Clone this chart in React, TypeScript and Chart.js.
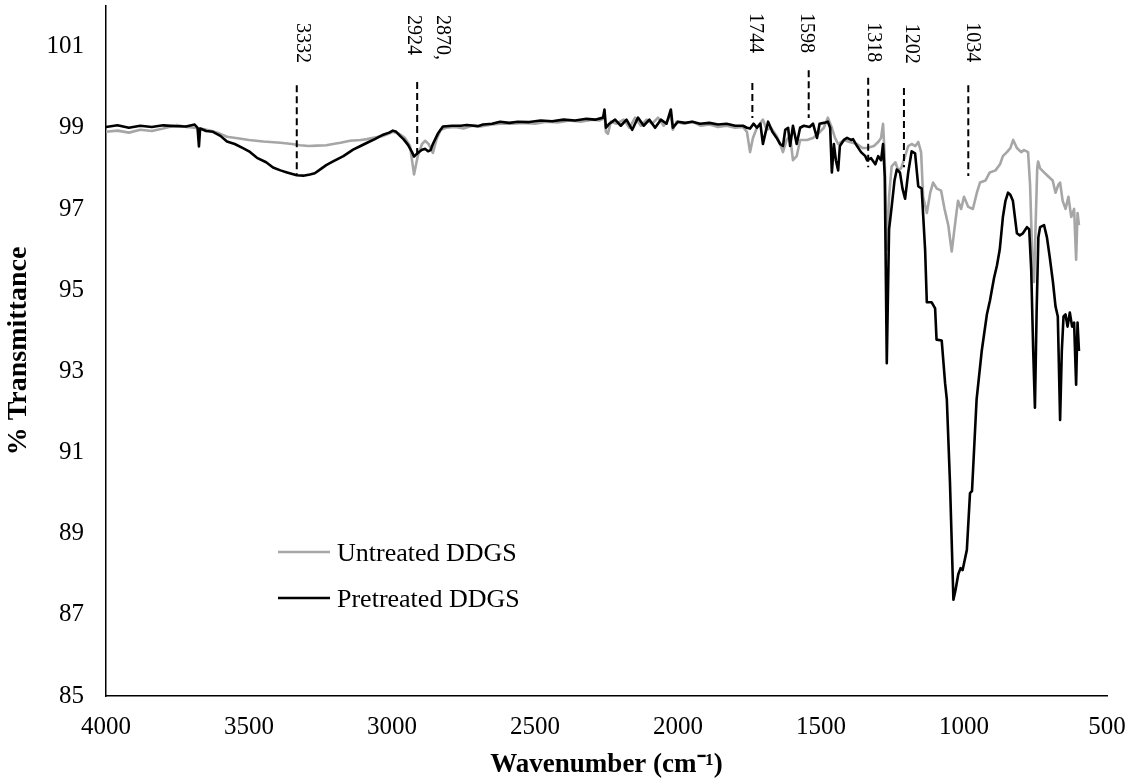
import React, { useEffect, useRef } from "react";
import { Chart, registerables } from "chart.js";

Chart.register(...registerables);

// ---------- Data ----------
const seriesNames = ["Untreated DDGS", "Pretreated DDGS"];

const untreatedWavenumber = [
  4000, 3960, 3920, 3880, 3840, 3800, 3752, 3720, 3690, 3660,
  3630, 3600, 3577, 3540, 3500, 3450, 3390, 3350, 3322, 3290,
  3263, 3230, 3206, 3180, 3147, 3110, 3087, 3060, 3031, 3010,
  2997, 2975, 2955, 2937, 2923, 2910, 2895, 2884, 2872, 2857,
  2845, 2830, 2810, 2780, 2750, 2720, 2690, 2650, 2620, 2580,
  2540, 2500, 2460, 2420, 2380, 2340, 2300, 2275, 2262, 2257,
  2252, 2245, 2235, 2215, 2190, 2170, 2150, 2130, 2110, 2090,
  2070, 2050, 2035, 2025, 2018, 2005, 1980, 1950, 1920, 1890,
  1860, 1830, 1800, 1773, 1759, 1748, 1738, 1724, 1703, 1690,
  1675, 1655, 1643, 1633, 1620, 1608, 1598, 1585, 1573, 1549,
  1528, 1510, 1490, 1476, 1462, 1451, 1440, 1420, 1400, 1374,
  1355, 1339, 1315, 1300, 1290, 1283, 1278, 1270, 1262, 1253,
  1240, 1230, 1220, 1206, 1195, 1183, 1170, 1160, 1150, 1143,
  1130, 1118, 1108, 1095, 1080, 1068, 1055, 1043, 1030, 1021,
  1010, 1000, 985, 969, 955, 944, 925, 910, 890, 874,
  864, 850, 838, 828, 815, 800, 790, 776, 769, 762,
  755, 750, 744, 741, 734, 720, 705, 690, 680, 670,
  664, 655, 645, 635, 625, 615, 608, 603, 598,
];
const untreatedTransmittance = [
  98.9, 98.93, 98.88, 98.95, 98.92, 98.98, 99.07, 99.02, 99.0, 98.97,
  98.92, 98.85, 98.78, 98.74, 98.7, 98.66, 98.63, 98.6, 98.57, 98.55,
  98.56, 98.57, 98.6, 98.63, 98.68, 98.7, 98.72, 98.76, 98.8, 98.86,
  98.9, 98.85, 98.75, 98.55, 97.85, 98.3, 98.6, 98.68, 98.6, 98.38,
  98.7, 98.95, 99.0, 99.02, 98.98, 99.05, 99.03, 99.08, 99.1, 99.1,
  99.12, 99.1, 99.15, 99.13, 99.18, 99.15, 99.2, 99.18, 99.22, 99.35,
  98.9, 98.85, 99.15, 99.1, 99.2, 99.0, 99.25, 99.05, 99.2, 99.1,
  99.25, 99.05, 99.2, 99.35, 98.95, 99.15, 99.1, 99.15, 99.05, 99.08,
  99.02, 99.05, 99.0, 99.02, 98.9, 98.4, 98.75, 99.0, 99.2, 98.95,
  99.0, 98.8, 98.6, 98.4, 98.7, 98.8, 98.2, 98.3, 98.7, 98.7,
  98.75, 98.85, 99.0, 99.25, 99.0, 98.75, 98.6, 98.7, 98.65, 98.6,
  98.5, 98.5, 98.55, 98.65, 98.75, 99.1, 98.4, 96.0, 97.3, 98.05,
  98.15, 97.95, 98.0, 98.3, 98.55, 98.6, 98.55, 98.65, 98.4, 97.3,
  96.9, 97.4, 97.65, 97.5, 97.45, 97.0, 96.6, 95.95, 96.7, 97.2,
  97.0, 97.3, 97.05, 97.0, 97.4, 97.65, 97.7, 97.9, 97.95, 98.1,
  98.3, 98.4, 98.5, 98.7, 98.5, 98.4, 98.45, 98.4, 97.6, 96.0,
  95.2, 96.5, 98.0, 98.17, 98.0, 97.9, 97.8, 97.7, 97.4, 97.6,
  97.65, 97.2, 97.0, 97.3, 96.8, 97.0, 95.75, 96.9, 96.6,
];

const pretreatedWavenumber = [
  4000, 3960, 3920, 3880, 3840, 3800, 3760, 3720, 3690, 3680,
  3675, 3671, 3650, 3626, 3600, 3577, 3550, 3521, 3500, 3472,
  3440, 3416, 3390, 3367, 3333, 3310, 3287, 3270, 3252, 3230,
  3206, 3170, 3136, 3110, 3087, 3060, 3031, 3010, 2997, 2985,
  2972, 2960, 2944, 2930, 2923, 2910, 2895, 2884, 2874, 2865,
  2857, 2840, 2822, 2790, 2760, 2738, 2700, 2682, 2650, 2622,
  2590, 2560, 2520, 2480, 2440, 2400, 2360, 2320, 2290, 2262,
  2257, 2252, 2240, 2220, 2200, 2180, 2160, 2140, 2120, 2100,
  2080, 2060, 2040, 2025, 2018, 2000, 1975, 1950, 1923, 1890,
  1860, 1830, 1800, 1773, 1759, 1748, 1736, 1724, 1712, 1703,
  1695, 1685, 1670, 1655, 1643, 1633, 1625, 1615, 1608, 1598,
  1585, 1573, 1560, 1540, 1528, 1514, 1505, 1490, 1476, 1468,
  1462, 1455, 1448, 1440, 1434, 1420, 1409, 1395, 1388, 1374,
  1360, 1345, 1339, 1325, 1310, 1300, 1290, 1283, 1277, 1270,
  1262, 1253, 1243, 1235, 1224, 1215, 1206, 1195, 1183, 1171,
  1160, 1148, 1136, 1130, 1113, 1101, 1096, 1078, 1066, 1060,
  1049, 1037, 1030, 1020, 1012, 1005, 996, 990, 979, 972,
  956, 938, 920, 909, 895, 885, 875, 864, 855, 846,
  838, 829, 815, 805, 794, 780, 772, 765, 758, 752,
  746, 740, 734, 720, 710, 700, 689, 680, 672, 664,
  658, 652, 645, 638, 630, 622, 615, 608, 603, 598,
];
const pretreatedTransmittance = [
  99.02, 99.06, 99.0, 99.05, 99.02, 99.06, 99.04, 99.03, 99.08, 99.0,
  98.54, 98.98, 98.92, 98.9, 98.8, 98.66, 98.6, 98.5, 98.42, 98.26,
  98.15, 98.02, 97.95, 97.9, 97.83, 97.82, 97.85, 97.88, 97.97, 98.08,
  98.17, 98.3, 98.46, 98.55, 98.63, 98.72, 98.83, 98.88, 98.93, 98.9,
  98.8, 98.72, 98.58, 98.4, 98.29, 98.38, 98.46, 98.48, 98.42, 98.45,
  98.6, 98.85, 99.03, 99.05, 99.05, 99.07, 99.04, 99.08, 99.1, 99.15,
  99.12, 99.15, 99.14, 99.18, 99.16, 99.2, 99.18, 99.22, 99.2, 99.25,
  99.45, 99.0, 99.1, 99.2, 99.05, 99.2, 98.95, 99.25, 99.05, 99.2,
  99.0, 99.2, 99.1, 99.45, 99.0, 99.15, 99.12, 99.15, 99.1, 99.12,
  99.08, 99.1, 99.05, 99.05, 99.0, 98.98, 99.1, 99.0, 99.1, 98.6,
  98.85, 99.15, 98.9, 98.75, 98.6, 98.55, 98.95, 99.0, 98.55, 99.05,
  98.6, 99.0, 99.05, 99.02, 99.1, 98.75, 99.1, 99.12, 99.15, 99.0,
  97.9, 98.6, 98.2, 97.95, 98.55, 98.7, 98.75, 98.7, 98.72, 98.55,
  98.4, 98.3, 98.2, 98.25, 98.1, 98.3, 98.2, 98.6, 97.8, 93.2,
  96.5, 97.05, 97.7, 97.97, 97.9, 97.5, 97.25, 97.9, 98.42, 98.37,
  97.56, 97.5, 96.0, 94.7, 94.7, 94.55, 93.78, 93.76, 92.7, 92.3,
  90.25, 87.37, 87.6, 88.0, 88.15, 88.1, 88.4, 88.6, 90.0, 90.05,
  92.3, 93.5, 94.4, 94.75, 95.3, 95.6, 96.0, 96.8, 97.2, 97.4,
  97.35, 97.2, 96.4, 96.35, 96.4, 96.55, 96.5, 95.5, 93.5, 92.1,
  94.5, 96.3, 96.55, 96.6, 96.3, 95.8, 95.2, 94.6, 94.35, 91.8,
  93.5, 94.35, 94.4, 94.1, 94.45, 94.1, 94.2, 92.67, 94.2, 93.5,
];

const xTicks = [4000, 3500, 3000, 2500, 2000, 1500, 1000, 500];
const yTicks = [85, 87, 89, 91, 93, 95, 97, 99, 101];

// Peak annotations (label text, label anchor in data units)
const peakLabels = ["3332", "2924", "2870,", "1744", "1598", "1318", "1202", "1034"];
const peakLabelWavenumber = [3315, 2927, 2825, 1731, 1552, 1318, 1185, 972];
const peakLabelTop = [101.58, 101.78, 101.78, 101.83, 101.83, 101.6, 101.56, 101.6];

// Dashed marker lines (wavenumber, top and bottom transmittance)
const markerWavenumber = [3333, 2912, 1740, 1543, 1335, 1210, 985];
const markerTop = [100.05, 100.13, 100.1, 100.42, 100.23, 99.98, 100.05];
const markerBottom = [97.84, 98.28, 99.24, 99.24, 98.03, 98.03, 97.81];

// ---------- Styles ----------
const FONT = '"Times New Roman", "Liberation Serif", serif';
const GREY = "#a6a6a6";
const BLACK = "#000000";

const overlayPlugin = {
  id: "ftirOverlay",
  afterDatasetsDraw(chart: any) {
    const { ctx, scales, chartArea } = chart;
    const xs = scales.x;
    const ys = scales.y;
    ctx.save();
    // peak labels (rotated 90 degrees clockwise)
    ctx.fillStyle = BLACK;
    ctx.font = `20px ${FONT}`;
    ctx.textAlign = "left";
    ctx.textBaseline = "middle";
    peakLabels.forEach((t, i) => {
      const px = xs.getPixelForValue(peakLabelWavenumber[i]);
      const py = ys.getPixelForValue(peakLabelTop[i]);
      ctx.save();
      ctx.translate(px, py);
      ctx.rotate(Math.PI / 2);
      ctx.fillText(t, 0, 0);
      ctx.restore();
    });
    // legend inside the plot area
    const colors = [GREY, BLACK];
    const lx0 = chartArea.left + 172;
    const lx1 = chartArea.left + 224;
    const ly = [chartArea.top + 546, chartArea.top + 592];
    ctx.font = `26px ${FONT}`;
    ctx.textBaseline = "alphabetic";
    seriesNames.forEach((name, i) => {
      ctx.strokeStyle = colors[i];
      ctx.lineWidth = 2.6;
      ctx.beginPath();
      ctx.moveTo(lx0, ly[i]);
      ctx.lineTo(lx1, ly[i]);
      ctx.stroke();
      ctx.fillStyle = BLACK;
      ctx.fillText(name, lx1 + 7, ly[i] + 9);
    });
    ctx.restore();
  },
};

export default function App() {
  const ref = useRef<HTMLCanvasElement>(null);

  useEffect(() => {
    document.body.style.margin = "0";
    const canvas = ref.current;
    if (!canvas) return;

    const untreated = untreatedWavenumber.map((x, i) => ({ x, y: untreatedTransmittance[i] }));
    const pretreated = pretreatedWavenumber.map((x, i) => ({ x, y: pretreatedTransmittance[i] }));
    const markers = markerWavenumber.map((x, i) => ({
      label: "marker" + i,
      data: [
        { x, y: markerTop[i] },
        { x, y: markerBottom[i] },
      ],
      borderColor: BLACK,
      borderWidth: 2,
      borderDash: [7, 4],
      pointRadius: 0,
      order: 0,
    }));

    const chart = new Chart(canvas, {
      type: "line",
      data: {
        datasets: [
          {
            label: seriesNames[1],
            data: pretreated,
            borderColor: BLACK,
            borderWidth: 2.6,
            pointRadius: 0,
            tension: 0,
            borderJoinStyle: "round",
            order: 1,
          },
          {
            label: seriesNames[0],
            data: untreated,
            borderColor: GREY,
            borderWidth: 2.6,
            pointRadius: 0,
            tension: 0,
            borderJoinStyle: "round",
            order: 2,
          },
          ...markers,
        ] as any,
      },
      options: {
        animation: false,
        responsive: false,
        devicePixelRatio: 1,
        layout: { padding: { top: 6, right: 26, left: 0, bottom: 0 } },
        plugins: {
          legend: { display: false },
          tooltip: { enabled: false },
        },
        scales: {
          x: {
            type: "linear",
            reverse: true,
            min: 500,
            max: 4000,
            afterBuildTicks: (s: any) => {
              s.ticks = xTicks.map((v) => ({ value: v }));
            },
            afterFit: (s: any) => {
              s.height = 86;
              s.paddingLeft = 0;
              s.paddingRight = 0;
            },
            grid: { display: false, drawTicks: false },
            border: { display: true, color: BLACK, width: 1.5 },
            ticks: {
              color: BLACK,
              font: { family: FONT, size: 25 },
              padding: 16,
              maxRotation: 0,
              autoSkip: false,
              callback: (v: any) => String(v),
            },
            title: {
              display: true,
              text: "Wavenumber (cm⁻¹)",
              color: BLACK,
              font: { family: FONT, size: 27, weight: "bold" },
              padding: { top: 0, bottom: 1 },
            },
          },
          y: {
            type: "linear",
            min: 85,
            max: 102,
            afterBuildTicks: (s: any) => {
              s.ticks = yTicks.map((v) => ({ value: v }));
            },
            afterFit: (s: any) => {
              s.width = 106;
              s.paddingTop = 0;
              s.paddingBottom = 0;
            },
            grid: { display: false, drawTicks: false },
            border: { display: true, color: BLACK, width: 1.5 },
            ticks: {
              color: BLACK,
              font: { family: FONT, size: 25 },
              padding: 22,
              callback: (v: any) => String(v),
            },
            title: {
              display: true,
              text: "% Transmittance",
              color: BLACK,
              font: { family: FONT, size: 28, weight: "bold" },
              padding: { top: 2, bottom: 0 },
            },
          },
        },
      } as any,
      plugins: [overlayPlugin],
    });

    return () => chart.destroy();
  }, []);

  return (
    <div style={{ width: 1133, height: 782 }}>
      <canvas ref={ref} width={1133} height={782} style={{ display: "block", width: 1133, height: 782 }} />
    </div>
  );
}
